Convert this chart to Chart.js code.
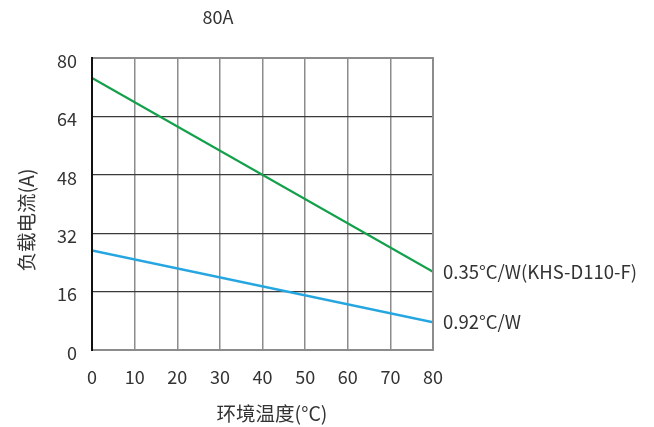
<!DOCTYPE html>
<html>
<head>
<meta charset="utf-8">
<script src="https://cdn.jsdelivr.net/npm/chart.js@4.4.0/dist/chart.umd.min.js"></script>
<style>
  html, body { margin: 0; padding: 0; background: #fff; }
  #wrap { width: 654px; height: 427px; }
</style>
</head>
<body>
<div id="wrap"><canvas id="chart"></canvas></div>
<script>
// data
const temps = [0, 80];
const current035 = [74.5, 21.4];
const current092 = [27.3, 7.6];
const xTicks = [0, 10, 20, 30, 40, 50, 60, 70, 80];
const yTicks = [0, 16, 32, 48, 64, 80];
const seriesNames = ['0.35°C/W(KHS-D110-F)', '0.92°C/W'];

const FONT = '"Noto Sans CJK SC", "Noto Sans", sans-serif';
const TEXT = '#333';

// titles and line end labels drawn on the canvas
const textPlugin = {
    id: 'texts',
    afterDraw(chart) {
        const ctx = chart.ctx;
        const a = chart.chartArea;
        const y = chart.scales.y;
        ctx.save();
        ctx.fillStyle = TEXT;
        ctx.textBaseline = 'middle';

        ctx.textAlign = 'center';
        ctx.font = '18px ' + FONT;
        ctx.fillText('80A', 218, 17);
        ctx.font = '19.5px ' + FONT;
        ctx.fillText('环境温度(°C)', 272, 414);

        ctx.save();
        ctx.translate(27, 220);
        ctx.rotate(-Math.PI / 2);
        ctx.fillText('负载电流(A)', 0, 0);
        ctx.restore();

        ctx.textAlign = 'left';
        ctx.font = '18.5px ' + FONT;
        chart.data.datasets.forEach((ds, i) => {
            const last = ds.data[ds.data.length - 1];
            ctx.fillText(seriesNames[i], a.right + 10, y.getPixelForValue(last.y));
        });

        // frame: black left axis, gray rest
        ctx.lineWidth = 2;
        ctx.strokeStyle = '#8c8c8c';
        ctx.beginPath();
        ctx.moveTo(a.left, a.top);
        ctx.lineTo(a.right, a.top);
        ctx.lineTo(a.right, a.bottom);
        ctx.lineTo(a.left, a.bottom);
        ctx.stroke();
        ctx.strokeStyle = '#111';
        ctx.beginPath();
        ctx.moveTo(a.left, a.top - 1);
        ctx.lineTo(a.left, a.bottom + 1);
        ctx.stroke();
        ctx.restore();
    }
};

new Chart(document.getElementById('chart'), {
    type: 'line',
    data: {
        datasets: [
            {
                data: temps.map((t, i) => ({ x: t, y: current035[i] })),
                borderColor: '#12a04a',
                borderWidth: 2.2,
                pointRadius: 0
            },
            {
                data: temps.map((t, i) => ({ x: t, y: current092[i] })),
                borderColor: '#26a6e0',
                borderWidth: 2.5,
                pointRadius: 0
            }
        ]
    },
    options: {
        responsive: true,
        maintainAspectRatio: false,
        animation: false,
        layout: { padding: { left: 0, top: 58, right: 221, bottom: 0 } },
        plugins: { legend: { display: false }, tooltip: { enabled: false } },
        scales: {
            x: {
                type: 'linear',
                min: 0,
                max: 80,
                afterBuildTicks: (s) => { s.ticks = xTicks.map(v => ({ value: v })); },
                afterFit: (s) => { s.height = 77; },
                border: { display: false },
                grid: { color: '#8c8c8c', lineWidth: 1.5, drawTicks: false },
                ticks: { color: TEXT, padding: 16, font: { family: FONT, size: 18 } }
            },
            y: {
                min: 0,
                max: 80,
                afterBuildTicks: (s) => { s.ticks = yTicks.map(v => ({ value: v })); },
                afterFit: (s) => { s.width = 92; },
                border: { display: false },
                grid: { color: '#3a3a3a', lineWidth: 1.2, drawTicks: false },
                ticks: { color: TEXT, padding: 15, labelOffset: 3, font: { family: FONT, size: 18 } }
            }
        }
    },
    plugins: [textPlugin]
});
</script>
</body>
</html>
